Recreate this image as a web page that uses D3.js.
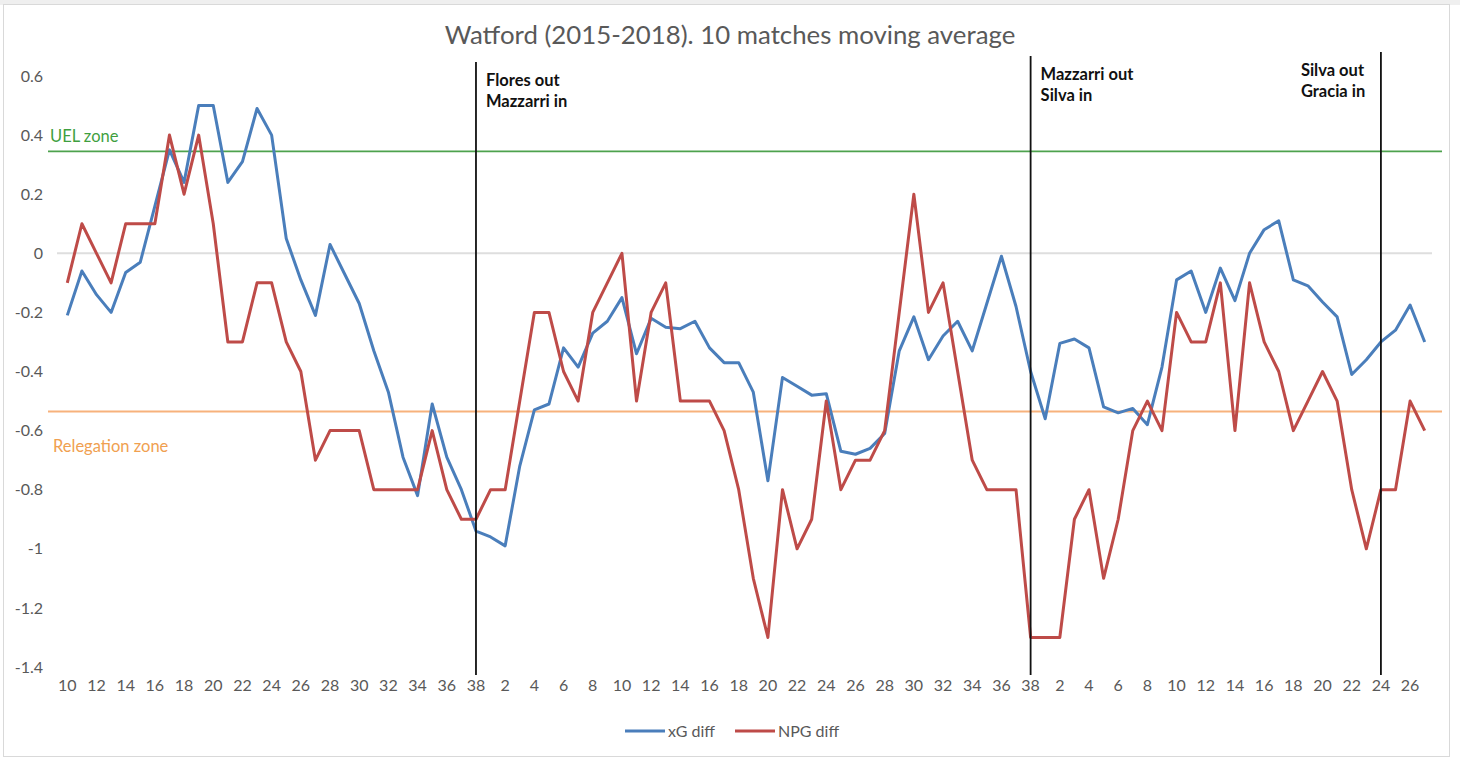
<!DOCTYPE html>
<html>
<head>
<meta charset="utf-8">
<script src="https://cdnjs.cloudflare.com/ajax/libs/d3/7.8.5/d3.min.js"></script>
<style>
  html, body { margin: 0; padding: 0; background: #fff; }
  svg { display: block; }
  text { font-family: Lato, "Open Sans", sans-serif; }
</style>
</head>
<body>
<svg id="chart" width="1460" height="758"></svg>
<script>
// ---- Data ----
const season1Labels = ["10","11","12","13","14","15","16","17","18","19","20","21","22","23","24","25","26","27","28","29","30","31","32","33","34","35","36","37","38"];
const season2Labels = ["1","2","3","4","5","6","7","8","9","10","11","12","13","14","15","16","17","18","19","20","21","22","23","24","25","26","27","28","29","30","31","32","33","34","35","36","37","38"];
const season3Labels = ["1","2","3","4","5","6","7","8","9","10","11","12","13","14","15","16","17","18","19","20","21","22","23","24","25","26","27"];

const xgS1 = [-0.21,-0.06,-0.14,-0.2,-0.065,-0.03,0.16,0.35,0.24,0.5,0.5,0.24,0.31,0.49,0.4,0.05,-0.09,-0.21,0.03,-0.07,-0.17,-0.33,-0.47,-0.69,-0.82,-0.51,-0.69,-0.8,-0.94];
const xgS2 = [-0.96,-0.99,-0.72,-0.53,-0.51,-0.32,-0.385,-0.27,-0.23,-0.15,-0.34,-0.22,-0.25,-0.255,-0.23,-0.32,-0.37,-0.37,-0.47,-0.77,-0.42,-0.45,-0.48,-0.475,-0.67,-0.68,-0.66,-0.61,-0.33,-0.215,-0.36,-0.28,-0.23,-0.33,-0.17,-0.01,-0.18,-0.4];
const xgS3 = [-0.56,-0.305,-0.29,-0.32,-0.52,-0.54,-0.525,-0.58,-0.385,-0.09,-0.06,-0.2,-0.05,-0.16,0.0,0.08,0.11,-0.09,-0.11,-0.165,-0.215,-0.41,-0.36,-0.3,-0.26,-0.175,-0.3];

const npgS1 = [-0.1,0.1,0,-0.1,0.1,0.1,0.1,0.4,0.2,0.4,0.1,-0.3,-0.3,-0.1,-0.1,-0.3,-0.4,-0.7,-0.6,-0.6,-0.6,-0.8,-0.8,-0.8,-0.8,-0.6,-0.8,-0.9,-0.9];
const npgS2 = [-0.8,-0.8,-0.5,-0.2,-0.2,-0.4,-0.5,-0.2,-0.1,0,-0.5,-0.2,-0.1,-0.5,-0.5,-0.5,-0.6,-0.8,-1.1,-1.3,-0.8,-1.0,-0.9,-0.5,-0.8,-0.7,-0.7,-0.6,-0.2,0.2,-0.2,-0.1,-0.4,-0.7,-0.8,-0.8,-0.8,-1.3];
const npgS3 = [-1.3,-1.3,-0.9,-0.8,-1.1,-0.9,-0.6,-0.5,-0.6,-0.2,-0.3,-0.3,-0.1,-0.6,-0.1,-0.3,-0.4,-0.6,-0.5,-0.4,-0.5,-0.8,-1.0,-0.8,-0.8,-0.5,-0.6];

const yTicks = [0.6,0.4,0.2,0,-0.2,-0.4,-0.6,-0.8,-1,-1.2,-1.4];
const uelLevel = 0.345;
const relegationLevel = -0.535;

// managerial changes
const changes = [
  {season: 1, match: "38", lines: ["Flores out", "Mazzarri in"], side: "right"},
  {season: 2, match: "38", lines: ["Mazzarri out", "Silva in"], side: "right"},
  {season: 3, match: "24", lines: ["Silva out", "Gracia in"], side: "left"}
];

const seriesNames = ["xG diff", "NPG diff"];

// ---- Build ----
const labels = [...season1Labels, ...season2Labels, ...season3Labels];
const seasonOf = [...season1Labels.map(() => 1), ...season2Labels.map(() => 2), ...season3Labels.map(() => 3)];
const xg = [...xgS1, ...xgS2, ...xgS3];
const npg = [...npgS1, ...npgS2, ...npgS3];
const idx = labels.map((d, i) => i);

const svg = d3.select("#chart");
const W = 1460, H = 758;

svg.append("rect").attr("x", 0).attr("y", 0).attr("width", W).attr("height", 5).attr("fill", "#efefef");
svg.append("rect").attr("x", 3.5).attr("y", 4.5).attr("width", 1446).attr("height", 752)
  .attr("fill", "#fff").attr("stroke", "#d9d9d9").attr("stroke-width", 1);

const plotLeft = 60, plotRight = 1432, plotTop = 76, plotBottom = 667;
const band = d3.scaleBand().domain(idx).range([plotLeft, plotRight]);
const x = i => band(i) + band.bandwidth() / 2;
const y = d3.scaleLinear().domain([-1.4, 0.6]).range([plotBottom, plotTop]);

const fmt = d => String(+d.toFixed(1));
const tickFont = "16px";

// zero gridline
svg.append("line").attr("x1", 57).attr("x2", plotRight).attr("y1", y(0)).attr("y2", y(0))
  .attr("stroke", "#dedede").attr("stroke-width", 2);

// Y axis
const yAxis = svg.append("g").attr("transform", `translate(43,0)`)
  .call(d3.axisLeft(y).tickValues(yTicks).tickSize(0).tickPadding(0).tickFormat(fmt));
yAxis.select(".domain").remove();
yAxis.selectAll("text").attr("fill", "#595959").style("font-size", tickFont).style("font-family", "Lato, sans-serif");

// X axis
const xAxis = svg.append("g").attr("transform", `translate(0,${plotBottom + 13})`)
  .call(d3.axisBottom(band).tickValues(idx.filter(i => i % 2 === 0)).tickSize(0).tickPadding(0).tickFormat(i => labels[i]));
xAxis.select(".domain").remove();
xAxis.selectAll("text").attr("fill", "#595959").style("font-size", tickFont).style("font-family", "Lato, sans-serif");

// Zone lines
svg.append("line").attr("x1", 48).attr("x2", 1442).attr("y1", y(uelLevel)).attr("y2", y(uelLevel))
  .attr("stroke", "#4ea24e").attr("stroke-width", 1.6);
svg.append("line").attr("x1", 48).attr("x2", 1442).attr("y1", y(relegationLevel)).attr("y2", y(relegationLevel))
  .attr("stroke", "#f7b27c").attr("stroke-width", 2);

svg.append("text").attr("x", 50).attr("y", y(uelLevel) - 9).text("UEL zone")
  .attr("fill", "#3f9f3f").style("font-size", "16.5px");
svg.append("text").attr("x", 53).attr("y", y(relegationLevel) + 41).text("Relegation zone")
  .attr("fill", "#f0a050").style("font-size", "16.5px");

// series lines
const line = d3.line().x((d, i) => x(i)).y(d => y(d));
svg.append("path").datum(xg).attr("d", line).attr("fill", "none")
  .attr("stroke", "#4a7ebb").attr("stroke-width", 3).attr("stroke-linejoin", "round");
svg.append("path").datum(npg).attr("d", line).attr("fill", "none")
  .attr("stroke", "#be4b48").attr("stroke-width", 3).attr("stroke-linejoin", "round");

// manager change markers
const tops = [62, 56, 52];
changes.forEach((c, k) => {
  const i = idx.find(j => seasonOf[j] === c.season && labels[j] === c.match);
  const xv = x(i);
  svg.append("line").attr("x1", xv).attr("x2", xv).attr("y1", tops[k]).attr("y2", plotBottom + 8)
    .attr("stroke", "#111").attr("stroke-width", 1.8);
  const tx = c.side === "right" ? xv + 10 : xv - 80;
  const t = svg.append("text")
    .attr("x", tx)
    .attr("y", tops[k] + 24)
    .attr("fill", "#111").style("font-size", "16.5px").style("font-weight", "bold");
  c.lines.forEach((ln, j) => {
    t.append("tspan").attr("x", tx).attr("dy", j === 0 ? 0 : 21).text(ln);
  });
});

// title
svg.append("text").attr("x", 730).attr("y", 44).attr("text-anchor", "middle")
  .text("Watford (2015-2018). 10 matches moving average")
  .attr("fill", "#595959").style("font-size", "25.8px");

// legend
const legend = [{name: seriesNames[0], color: "#4a7ebb", x: 625}, {name: seriesNames[1], color: "#be4b48", x: 735}];
legend.forEach(l => {
  svg.append("line").attr("x1", l.x).attr("x2", l.x + 40).attr("y1", 731).attr("y2", 731)
    .attr("stroke", l.color).attr("stroke-width", 3);
  svg.append("text").attr("x", l.x + 43).attr("y", 737).text(l.name)
    .attr("fill", "#595959").style("font-size", "16px");
});
</script>
</body>
</html>
